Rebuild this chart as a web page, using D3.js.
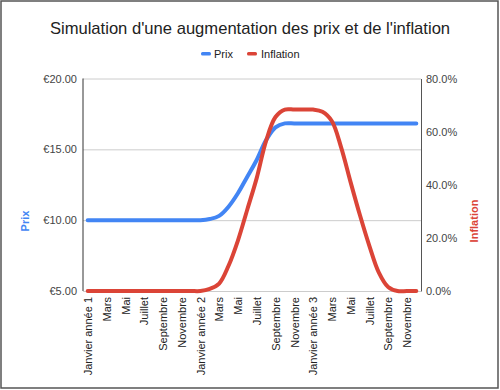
<!DOCTYPE html>
<html><head><meta charset="utf-8">
<script src="https://cdn.jsdelivr.net/npm/d3@7"></script>
<style>
html,body{margin:0;padding:0;background:#fff;}
text{font-family:Arial,"Liberation Sans",sans-serif;}
</style></head>
<body>
<svg id="c" width="500" height="390"></svg>
<script>
const title = "Simulation d'une augmentation des prix et de l'inflation";
const months = ["Janvier année 1","Février","Mars","Avril","Mai","Juin","Juillet","Août","Septembre","Octobre","Novembre","Décembre",
"Janvier année 2","Février","Mars","Avril","Mai","Juin","Juillet","Août","Septembre","Octobre","Novembre","Décembre",
"Janvier année 3","Février","Mars","Avril","Mai","Juin","Juillet","Août","Septembre","Octobre","Novembre","Décembre"];
const prix = [10,10,10,10,10,10,10,10,10,10,10,10,10,
  10.08,10.3,10.95,11.9,13.07,14.25,15.65,16.55,
  16.83,16.83,16.83,16.83,16.83,16.83,16.83,16.83,16.83,16.83,16.83,16.83,16.83,16.83,16.83];
const inflation = [0,0,0,0,0,0,0,0,0,0,0,0,0,
  0.8,2.8,9.5,19,30.7,42.5,56.5,65.5,
  68.3,68.3,68.3,68.3,67.5,64,54,41,28.5,17,7,1.5,0,0,0];
const prixTicks = [5,10,15,20];
const inflTicks = [0,20,40,60,80];
const seriesNames = ["Prix","Inflation"];
const colors = ["#4285F4","#DB4437"];

const svg = d3.select("#c");
svg.append("rect").attr("x",1).attr("y",1).attr("width",497).attr("height",387)
  .attr("fill","#fff").attr("stroke","#555").attr("stroke-width",1.5);

const L=83, R=421, T=78.5, B=291;
const idx = d3.range(months.length);
const x = d3.scalePoint().domain(idx).range([L,R]).padding(0.5);
const yL = d3.scaleLinear().domain([5,20]).range([B,T]);
const yR = d3.scaleLinear().domain([0,80]).range([B,T]);

// title
svg.append("text").attr("x",250).attr("y",34).attr("text-anchor","middle")
  .attr("font-size",16.6).attr("fill","#222").text(title);

// legend
const leg = [{n:seriesNames[0],c:colors[0],sx:201,tx:214},{n:seriesNames[1],c:colors[1],sx:247,tx:261}];
leg.forEach(d=>{
  svg.append("rect").attr("x",d.sx).attr("y",52).attr("width",10).attr("height",3.5).attr("rx",1.5).attr("fill",d.c);
  svg.append("text").attr("x",d.tx).attr("y",57.5).attr("font-size",11).attr("fill","#222").text(d.n);
});

// gridlines (left axis)
const gL = svg.append("g").attr("transform",`translate(${L},0)`)
  .call(d3.axisLeft(yL).tickValues(prixTicks).tickSize(-(R-L)).tickPadding(6).tickFormat(d=>"€"+d3.format(".2f")(d)));
gL.select(".domain").remove();
gL.selectAll(".tick line").attr("stroke","#cccccc");
gL.selectAll(".tick text").attr("font-size",11).attr("fill","#444").attr("font-family","Arial, 'Liberation Sans', sans-serif");

// right axis
const gR = svg.append("g").attr("transform",`translate(${R},0)`)
  .call(d3.axisRight(yR).tickValues(inflTicks).tickSize(0).tickPadding(5).tickFormat(d=>d3.format(".1f")(d)+"%"));
gR.select(".domain").attr("stroke","#555");
gR.selectAll(".tick text").attr("font-size",11).attr("fill","#444").attr("font-family","Arial, 'Liberation Sans', sans-serif");

// left axis line
svg.append("line").attr("x1",L).attr("x2",L).attr("y1",T).attr("y2",B).attr("stroke","#333");

// x labels
const gX = svg.append("g").attr("transform",`translate(0,${B})`)
  .call(d3.axisBottom(x).tickValues(idx.filter(i=>i%2===0)).tickSize(0).tickFormat(i=>months[i]));
gX.select(".domain").remove();
gX.selectAll(".tick text").attr("font-size",11).attr("fill","#222")
  .attr("font-family","Arial, 'Liberation Sans', sans-serif")
  .attr("text-anchor","end").attr("transform","rotate(-90)").attr("x",-6).attr("y",0).attr("dy","0.35em");

// lines
const lineP = d3.line().x((d,i)=>x(i)).y(d=>yL(d)).curve(d3.curveCatmullRom.alpha(0.5));
const lineI = d3.line().x((d,i)=>x(i)).y(d=>yR(d)).curve(d3.curveCatmullRom.alpha(0.5));
svg.append("path").datum(prix).attr("d",lineP).attr("fill","none").attr("stroke",colors[0]).attr("stroke-width",4).attr("stroke-linejoin","round").attr("stroke-linecap","round");
svg.append("path").datum(inflation).attr("d",lineI).attr("fill","none").attr("stroke",colors[1]).attr("stroke-width",4).attr("stroke-linejoin","round").attr("stroke-linecap","round");

// axis titles
svg.append("text").attr("transform","translate(29,221) rotate(-90)").attr("text-anchor","middle")
  .attr("font-size",11).attr("font-weight","bold").attr("fill",colors[0]).text(seriesNames[0]);
svg.append("text").attr("transform","translate(478,221) rotate(-90)").attr("text-anchor","middle")
  .attr("font-size",11).attr("font-weight","bold").attr("fill",colors[1]).text(seriesNames[1]);
</script>
</body></html>
